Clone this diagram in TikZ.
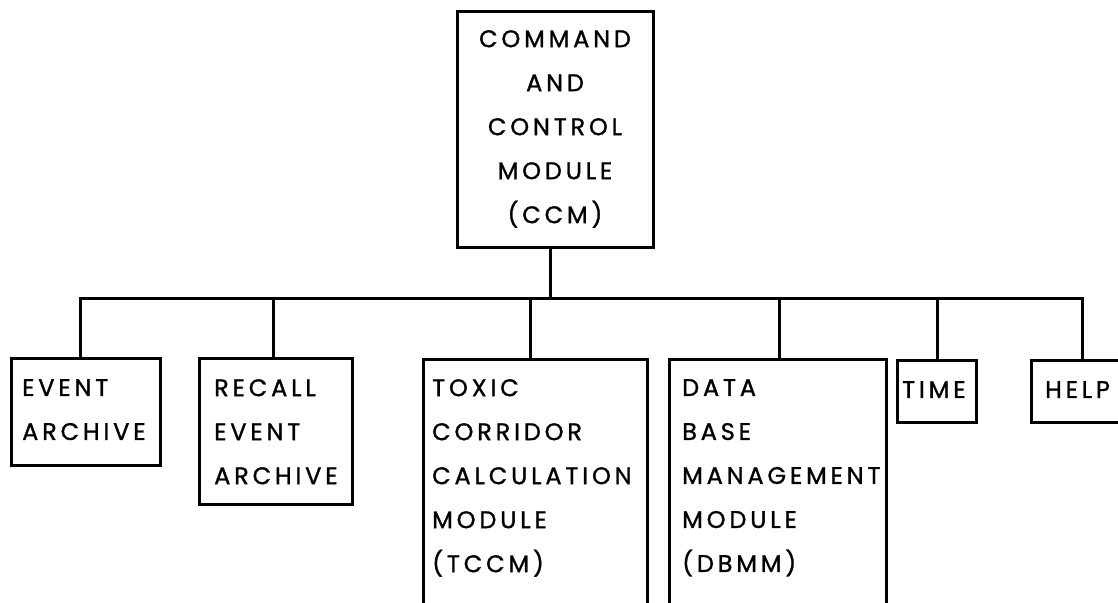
\documentclass[tikz,border=0pt]{standalone}
\usepackage{fontspec}
\setmainfont{Poppins}[LetterSpace=16,FakeBold=1.2]
\begin{document}
\begin{tikzpicture}[x=1pt,y=-1pt,
  box/.style={draw,line width=3pt,inner sep=0pt},
  lbl/.style={inner sep=0pt,font=\fontsize{24}{44}\selectfont},
  wire/.style={line width=3pt}]
\useasboundingbox (0,0) rectangle (1118,602);
\clip (0,0) rectangle (1118,602);
% boxes
\node[box,minimum width=196,minimum height=235] (ccm) at (555,129.5) {};
\node[box,minimum width=149,minimum height=107] (ea) at (85.5,411.5) {};
\node[box,minimum width=153,minimum height=146] (rea) at (275.5,431) {};
\node[box,minimum width=224,minimum height=261] (tccm) at (535,489.5) {};
\node[box,minimum width=217,minimum height=261] (dbmm) at (777.5,489.5) {};
\node[box,minimum width=79,minimum height=62] (time) at (936.5,391) {};
\node[box,minimum width=109,minimum height=62] (help) at (1085.5,391) {};
% texts
\node[lbl,align=center,anchor=north] (ccmtxt) at (555,30) {COMMAND\\AND\\CONTROL\\MODULE\\(CCM)};
\node[lbl,align=left,anchor=north west] (eatxt) at (22,379) {EVENT\\ARCHIVE};
\node[lbl,align=left,anchor=north west] (reatxt) at (214,379) {RECALL\\EVENT\\ARCHIVE};
\node[lbl,align=left,anchor=north west] (tctxt) at (432,379) {TOXIC\\CORRIDOR\\CALCULATION\\MODULE\\(TCCM)};
\node[lbl,align=left,anchor=north west] (dbtxt) at (682,379) {DATA\\BASE\\MANAGEMENT\\MODULE\\(DBMM)};
\node[lbl,anchor=north west] (timetxt) at (902,381) {TIME};
\node[lbl,anchor=north west] (helptxt) at (1045,381) {HELP};
% bus
\coordinate (j1) at (80,298);
\coordinate (j2) at (273,298);
\coordinate (j3) at (530,298);
\coordinate (j4) at (779,298);
\coordinate (j5) at (937,298);
\coordinate (j6) at (1082,298);
\coordinate (jc) at (550,298);
\draw[wire,line cap=rect] (j1) -- (j6);
\draw[wire] ([xshift=-5pt]ccm.south) -- (jc);
\draw[wire] (j1) -- (j1 |- ea.north);
\draw[wire] (j2) -- (j2 |- rea.north);
\draw[wire] (j3) -- (j3 |- tccm.north);
\draw[wire] (j4) -- (j4 |- dbmm.north);
\draw[wire] (j5) -- (j5 |- time.north);
\draw[wire] (j6) -- (j6 |- help.north);
\end{tikzpicture}
\end{document}
